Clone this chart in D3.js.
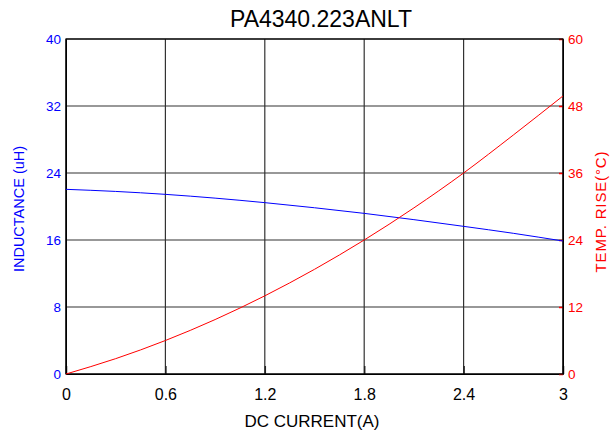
<!DOCTYPE html>
<html><head><meta charset="utf-8">
<script src="https://cdn.jsdelivr.net/npm/d3@7"></script>
<style>
body{margin:0;background:#fff;}
svg{display:block;font-family:Arial,"Liberation Sans",sans-serif;}
</style></head>
<body><svg id="c" width="610" height="436"></svg>
<script>
const title = "PA4340.223ANLT";
const current = [0, 0.3, 0.6, 0.9, 1.2, 1.5, 1.8, 2.1, 2.4, 2.7, 3.0];
const inductance = [22.05, 21.8, 21.45, 21.0, 20.46, 19.85, 19.18, 18.43, 17.63, 16.8, 15.88];
const tempRise = [0, 2.75, 6.0, 9.75, 14.0, 18.75, 24.0, 29.75, 36.0, 42.8, 49.8];
const xTicks = [0, 0.6, 1.2, 1.8, 2.4, 3];
const yLeftTicks = [0, 8, 16, 24, 32, 40];
const yRightTicks = [0, 12, 24, 36, 48, 60];

const svg = d3.select("#c");
const L = 66, R = 563, T = 39, B = 374;
const x = d3.scaleLinear().domain([0, 3]).range([L, R]);
const yL = d3.scaleLinear().domain([0, 40]).range([B, T]);
const yR = d3.scaleLinear().domain([0, 60]).range([B, T]);

// grid
const g = svg.append("g");
g.selectAll("line.v").data(xTicks).join("line")
  .attr("x1", d => x(d)).attr("x2", d => x(d)).attr("y1", T).attr("y2", B)
  .attr("stroke", "#333").attr("stroke-width", 1.2);
g.selectAll("line.h").data(yLeftTicks).join("line")
  .attr("x1", L).attr("x2", R).attr("y1", d => yL(d)).attr("y2", d => yL(d))
  .attr("stroke", "#333").attr("stroke-width", 1.2);

// x axis
const xAxis = svg.append("g").attr("transform", `translate(0,${B})`)
  .call(d3.axisBottom(x).tickValues(xTicks).tickFormat(d3.format("")).tickSizeInner(-8).tickSizeOuter(0).tickPadding(15));
xAxis.select(".domain").attr("stroke", "#000");
xAxis.selectAll(".tick line").attr("stroke", "#222").attr("stroke-width", 1.5);
xAxis.selectAll("text").attr("font-size", 16).attr("fill", "#000").attr("font-family", "Arial, 'Liberation Sans', sans-serif");

// left axis
const yAxisL = svg.append("g").attr("transform", `translate(${L},0)`)
  .call(d3.axisLeft(yL).tickValues(yLeftTicks).tickFormat(d3.format("")).tickSize(0).tickPadding(5));
yAxisL.select(".domain").attr("stroke", "#000");
yAxisL.selectAll("text").attr("font-size", 13.5).attr("fill", "blue").attr("font-family", "Arial, 'Liberation Sans', sans-serif");

// right axis
const yAxisR = svg.append("g").attr("transform", `translate(${R},0)`)
  .call(d3.axisRight(yR).tickValues(yRightTicks).tickFormat(d3.format("")).tickSizeInner(-4).tickSizeOuter(0).tickPadding(5));
yAxisR.select(".domain").attr("stroke", "#000");
yAxisR.selectAll(".tick line").attr("stroke", "red").attr("stroke-width", 1.5);
yAxisR.selectAll("text").attr("font-size", 13.5).attr("fill", "red").attr("font-family", "Arial, 'Liberation Sans', sans-serif");

// frame
svg.append("rect").attr("x", L).attr("y", T).attr("width", R - L).attr("height", B - T)
  .attr("fill", "none").attr("stroke", "#000").attr("stroke-width", 1.2);

// curves
const lineL = d3.line().x((d, i) => x(current[i])).y(d => yL(d)).curve(d3.curveMonotoneX);
const lineR = d3.line().x((d, i) => x(current[i])).y(d => yR(d)).curve(d3.curveMonotoneX);
svg.append("path").attr("d", lineL(inductance)).attr("fill", "none").attr("stroke", "blue").attr("stroke-width", 1);
svg.append("path").attr("d", lineR(tempRise)).attr("fill", "none").attr("stroke", "red").attr("stroke-width", 1);

// texts
svg.append("text").attr("x", 321).attr("y", 27).attr("text-anchor", "middle")
  .attr("font-size", 23).attr("fill", "#000").text(title);
svg.append("text").attr("x", 312).attr("y", 427).attr("text-anchor", "middle")
  .attr("font-size", 17).attr("fill", "#000").text("DC CURRENT(A)");
svg.append("text").attr("transform", "translate(23.5,209) rotate(-90)").attr("text-anchor", "middle")
  .attr("font-size", 14.5).attr("fill", "blue").text("INDUCTANCE (uH)");
svg.append("text").attr("transform", "translate(606,212) rotate(-90)").attr("text-anchor", "middle")
  .attr("font-size", 15).attr("fill", "red").attr("textLength", 121).attr("lengthAdjust", "spacing").text("TEMP. RISE(°C)");
</script></body></html>
